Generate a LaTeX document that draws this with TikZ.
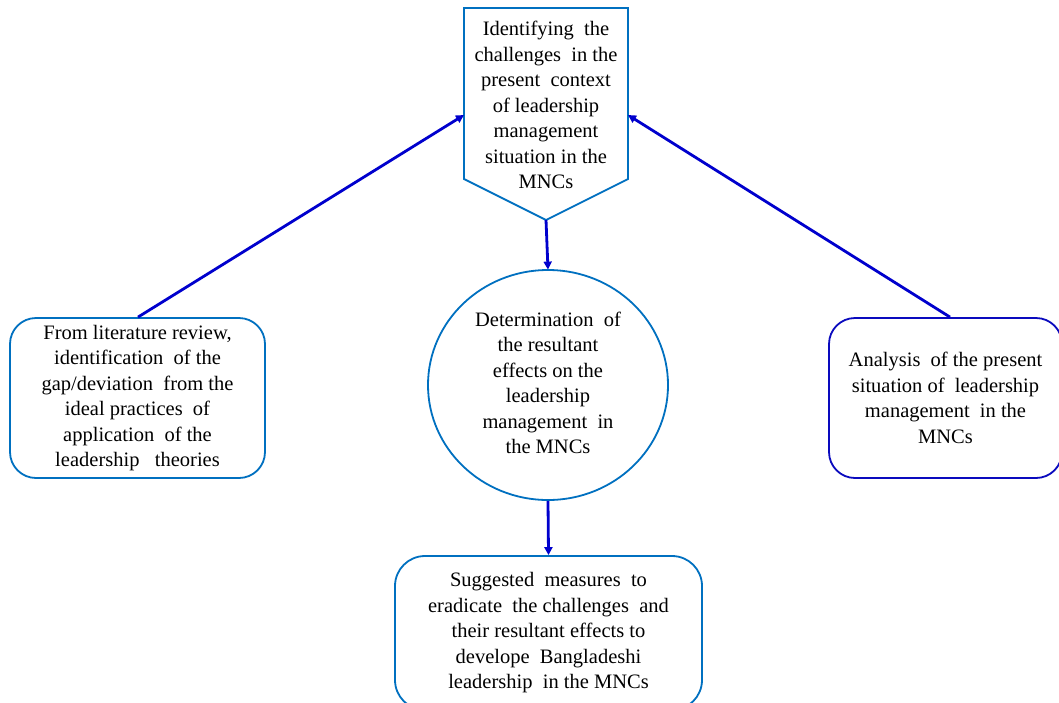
\documentclass[tikz,border=0pt]{standalone}
\usepackage{fontspec}
\setmainfont{Liberation Serif}
\usetikzlibrary{arrows.meta,shapes.geometric}
\definecolor{boxblue}{RGB}{0,112,192}
\definecolor{darkbox}{RGB}{10,10,190}
\definecolor{arrowblue}{RGB}{0,0,205}
\begin{document}
\begin{tikzpicture}[x=1pt,y=-1pt,
  txt/.style={align=center,font=\fontsize{20.5}{25.5}\selectfont,inner sep=0pt},
  roundbox/.style={txt,draw=boxblue,line width=1.8pt,rounded corners=26pt},
  link/.style={draw=arrowblue,line width=2.8pt,-{Triangle[length=8pt,width=8pt]}}]
\clip (0,0) rectangle (1059,702);
\fill[white] (0,0) rectangle (1059,702);
\draw[boxblue,line width=1.8pt] (464,8) -- (628,8) -- (628,179) -- (546,220) -- (464,179) -- cycle;
\node[txt,minimum width=164pt] (chal) at (546,105) {Identifying\ \ the\\challenges\ \ in the\\present\ \ context\\of leadership\\management\\situation in the\\MNCs};
\coordinate (chaltip) at (546,220);
\coordinate (challeft) at (464,115);
\coordinate (chalright) at (628,115);
\node[txt,ellipse,draw=boxblue,line width=1.8pt,minimum width=240pt,minimum height=230pt] (eff) at (548,385) {};
\node[txt] (efftext) at ([yshift=2pt]eff.center) {Determination\ \ of\\the resultant\\effects on the\\leadership\\management\ \ in\\the MNCs};
\node[roundbox,minimum width=255pt,minimum height=160pt] (lit) at (137.5,398) {From literature review,\\identification\ \ of the\\gap/deviation\ \ from the\\ideal practices\ \ of\\application\ \ of the\\leadership\ \ \ theories};
\node[roundbox,draw=darkbox,minimum width=233pt,minimum height=160pt] (ana) at (945.5,398) {Analysis\ \ of the present\\situation of\ \ leadership\\management\ \ in the\\MNCs};
\node[roundbox,rounded corners=30pt,minimum width=307pt,minimum height=154pt] (sug) at (548.5,633) {Suggested\ \ measures\ \ to\\eradicate\ \ the challenges\ \ and\\their resultant effects to\\develope\ \ Bangladeshi\\leadership\ \ in the MNCs};
\draw[link] ([xshift=0.5pt]lit.north) -- (challeft);
\draw[link] ([xshift=4.5pt]ana.north) -- (chalright);
\draw[link] (chaltip) -- ([yshift=-0.5pt]eff.north);
\draw[link] (eff.south) -- (sug.north);
\end{tikzpicture}
\end{document}
